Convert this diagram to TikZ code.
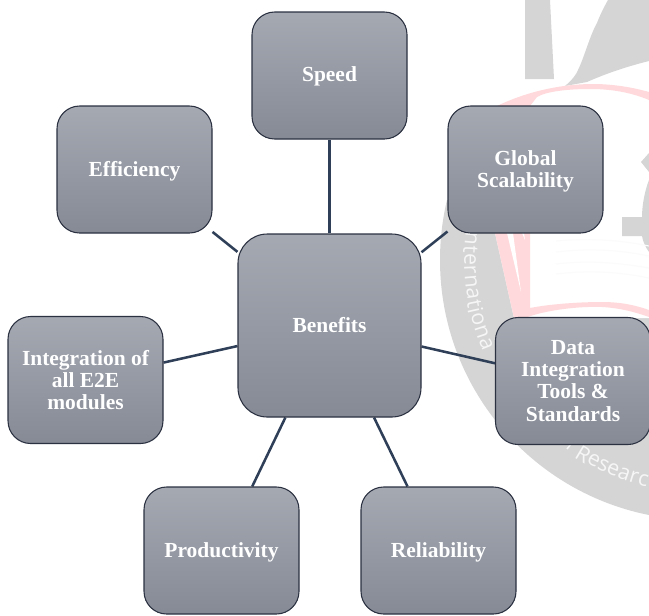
\documentclass[tikz,border=0pt]{standalone}
\usepackage{fontspec}
\setmainfont{Liberation Serif}
\newfontfamily\wmfont{Open Sans}
\pgfdeclarelayer{wm}
\pgfdeclarelayer{conn}
\pgfsetlayers{wm,conn,main}
\definecolor{wmgray}{HTML}{D5D5D5}
\definecolor{wmpink}{HTML}{FFD9DB}
\definecolor{wmtext}{HTML}{F6F6F6}
\definecolor{wmfaint}{HTML}{FBFBFB}
\definecolor{edgecol}{HTML}{2B3141}
\definecolor{linkcol}{HTML}{2E3F57}
\definecolor{toptone}{HTML}{A5A9B2}
\definecolor{bottone}{HTML}{858A95}
\newcommand{\nudge}[1]{\rule{0pt}{#1}}
\tikzset{
 x=0.75pt,y=-0.75pt,
 card/.style={draw=edgecol,line width=0.8pt,rounded corners=17pt,top color=toptone,bottom color=bottone,
   minimum width=116.25pt,minimum height=95.25pt,inner sep=0pt,align=center,text=white,
   font=\fontsize{16.1}{16.6}\selectfont\bfseries},
 hub/.style={card,rounded corners=22pt,minimum width=137.25pt,minimum height=137.25pt},
 link/.style={draw=linkcol,line width=1.9pt},
 wmletters/.style={text=wmtext,inner sep=0pt,font=\fontsize{16}{16}\selectfont\wmfont},
 faintline/.style={draw=wmfaint,line width=0.8pt}
}
\begin{document}
\begin{tikzpicture}
\useasboundingbox (0,0) rectangle (649,615);
\node[hub] (ben) at (329.5,325.5) {Benefits};
\node[card] (speed) at (329.5,75.5) {\nudge{12.4pt}Speed};
\node[card] (eff) at (134.5,169.5) {\nudge{14pt}Efficiency};
\node[card] (glob) at (525.5,169.5) {\nudge{14pt}Global\\Scalability};
\node[card] (integ) at (85.5,380) {Integration of\\all E2E\\modules};
\node[card] (data) at (573,381) {Data\\Integration\\Tools \&\\Standards};
\node[card] (prod) at (221.5,550.5) {\nudge{14pt}Productivity};
\node[card] (rel) at (438.5,550.5) {\nudge{14pt}Reliability};
\begin{pgfonlayer}{conn}
\foreach \n in {speed,eff,glob,integ,data,prod,rel}{\draw[link] (ben) -- (\n);}
\end{pgfonlayer}
\begin{pgfonlayer}{wm}
\begin{scope}
\clip (0,0) rectangle (649,615);
\begin{scope}
\clip (400,200) rectangle (649,615);
\fill[wmgray] (700,260) circle[radius=195pt];
\end{scope}
\fill[white] (480,190) -- (649,190) -- (649,318) -- (514,318) -- (495,233) -- cycle;
\fill[wmgray] (525,0) -- (550,0) -- (554,79) -- (525,79) -- cycle;
\fill[wmgray] (608,0) -- (649,0) -- (649,61) .. controls (625,67) and (605,74) .. (587,82) -- (565,86) .. controls (572,80) and (576,75) .. (578,70) .. controls (584,58) and (590,35) .. (597,23) .. controls (600,15) and (604,7) .. (608,0) -- cycle;
\fill[wmpink] (497,106) .. controls (530,90) and (565,84) .. (593,84) .. controls (615,84) and (635,88) .. (649,92) -- (649,100) .. controls (630,92) and (610,89) .. (590,89) .. controls (565,89) and (545,92) .. (537,97) -- (530,106) -- cycle;
\fill[wmpink] (495,233) -- (514,318) -- (525,318) .. controls (545,310) and (580,306) .. (602,307) .. controls (620,308) and (635,312) .. (649,317) -- (649,310) .. controls (635,305) and (620,302) .. (602,302) .. controls (580,302) and (550,304) .. (530,308) -- (530,233) -- cycle;
\fill[white] (507,233) -- (521,292) -- (513,233) -- cycle;
\fill[white] (522,233) -- (525,240) -- (524,233) -- cycle;
\fill[wmgray] (649,153) -- (641,162) -- (649,172) -- cycle;
\fill[wmgray] (649,180) .. controls (645,190) and (642,205) .. (642,217) -- (622,217) -- (622,236) -- (642,236) .. controls (643,242) and (646,248) .. (649,252) -- cycle;
\draw[faintline] (556,241) .. controls (590,238) and (620,240) .. (649,246);
\draw[faintline] (556,252) .. controls (590,248) and (620,250) .. (649,256);
\draw[faintline] (556,264) .. controls (590,260) and (620,263) .. (649,268);
\draw[faintline] (556,274) .. controls (590,270) and (620,272) .. (649,278);
\foreach \l/\a [count=\i] in {n/185.4,t/182.7,e/180.1,r/177.5,n/174.7,a/171.5,t/169,i/167.3,o/165,n/161.7,a/158.5}{
  \path (700,260) ++(\a:230) node[wmletters,rotate={90-\a}] (left\i) {\l};
}
\foreach \l/\a [count=\i] in {R/121,e/117.9,s/115.2,e/112.5,a/109.5,r/106.9,c/104.5,h/101.3}{
  \path (700,260) ++(\a:227) node[wmletters,rotate={90-\a}] (right\i) {\l};
}
\draw[wmtext,line width=1.2pt] (567,449) -- (571,444);
\end{scope}
\end{pgfonlayer}
\end{tikzpicture}
\end{document}
